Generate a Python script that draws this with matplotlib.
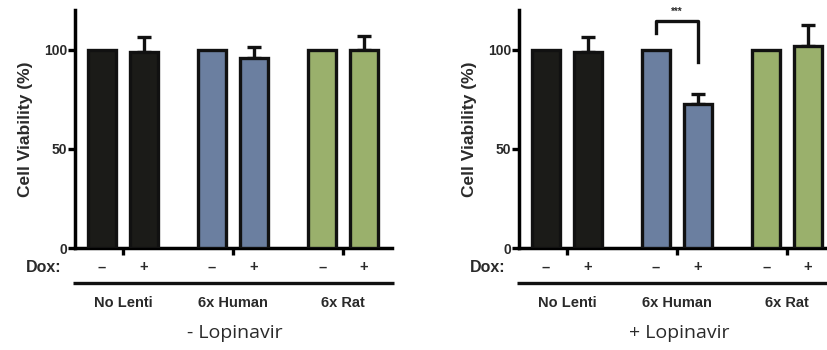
import numpy as np
import matplotlib.pyplot as plt

plt.rcParams['font.family'] = ['Liberation Sans', 'DejaVu Sans']

# data
groups = ['No Lenti', '6x Human', '6x Rat']
dox_labels = ['\u2013', '+']
colors = ['#1b1b18', '#6b7fa0', '#9ab06c']

minus_lopi_minus = [100, 100, 100]
minus_lopi_plus = [99, 96, 100]
minus_lopi_err = [7.5, 5.5, 7]

plus_lopi_minus = [100, 100, 100]
plus_lopi_plus = [99, 72.5, 102]
plus_lopi_err = [7.5, 5, 10.5]

panel_titles = ['- Lopinavir', '+ Lopinavir']

W, H = 827, 350
fig = plt.figure(figsize=(W / 100, H / 100), dpi=100)

TXT = '#2a2a2a'


def panel(left_px, minus_vals, plus_vals, errs, title, sig=False):
    ax = fig.add_axes([left_px / W, (H - 248) / H, 317 / W, 238 / H])
    x = np.arange(len(groups))
    off, bw = 0.19, 0.255
    for i in range(len(groups)):
        for j, (v, e) in enumerate([(minus_vals[i], 0), (plus_vals[i], errs[i])]):
            xx = x[i] + (2 * j - 1) * off
            if e > 0:
                ax.errorbar(xx, v, yerr=[[0], [e]], fmt='none', ecolor='#111111',
                            elinewidth=2.4, capsize=4.8, capthick=2.4, zorder=2)
            ax.bar(xx, v, width=bw, color=colors[i], edgecolor='#111111',
                   linewidth=2.4, zorder=3)
            ax.text(xx, -9.8, dox_labels[j], ha='center', va='center',
                    fontsize=10.5, fontweight='bold', color=TXT, clip_on=False)
        ax.text(x[i], -27.5, groups[i], ha='center', va='center', fontsize=10.5,
                fontweight='bold', color=TXT, clip_on=False)

    ax.set_xlim(-0.436, 2.445)
    ax.set_ylim(0, 120)
    ax.set_xticks(x)
    ax.set_xticklabels([])
    ax.set_yticks([0, 50, 100])
    ax.set_yticklabels(['0', '50', '100'], fontweight='bold', fontsize=10, color=TXT)
    ax.tick_params(axis='both', direction='out', length=5, width=2.4, pad=0.5)
    for s in ['top', 'right']:
        ax.spines[s].set_visible(False)
    for s in ['left', 'bottom']:
        ax.spines[s].set_linewidth(2.5)
    ax.set_ylabel('Cell Viability (%)', fontsize=12.5, fontweight='bold', color=TXT,
                  labelpad=8)

    ax.text(-0.56, -9.8, 'Dox:', ha='right', va='center', fontsize=11.5,
            fontweight='bold', color=TXT, clip_on=False)
    ax.plot([-0.455, 2.46], [-17.7, -17.7], color='#111111', lw=2.4,
            clip_on=False, solid_capstyle='butt')
    ax.text(1.02, -43, title, ha='center', va='center', fontsize=14,
            family=['Open Sans', 'DejaVu Sans'], color=TXT, clip_on=False)

    if sig:
        xl, xr = 1 - off, 1 + off
        ax.plot([xl, xl, xr, xr], [108.5, 114.3, 114.3, 93.8], color='#111111',
                lw=2.4, clip_on=False)
        ax.text(1.0, 116.5, '***', ha='center', va='bottom', fontsize=7,
                fontweight='bold', color=TXT, clip_on=False)
    return ax


panel(75, minus_lopi_minus, minus_lopi_plus, minus_lopi_err, panel_titles[0])
panel(519, plus_lopi_minus, plus_lopi_plus, plus_lopi_err, panel_titles[1], sig=True)

fig.savefig('out.png', dpi=100)
